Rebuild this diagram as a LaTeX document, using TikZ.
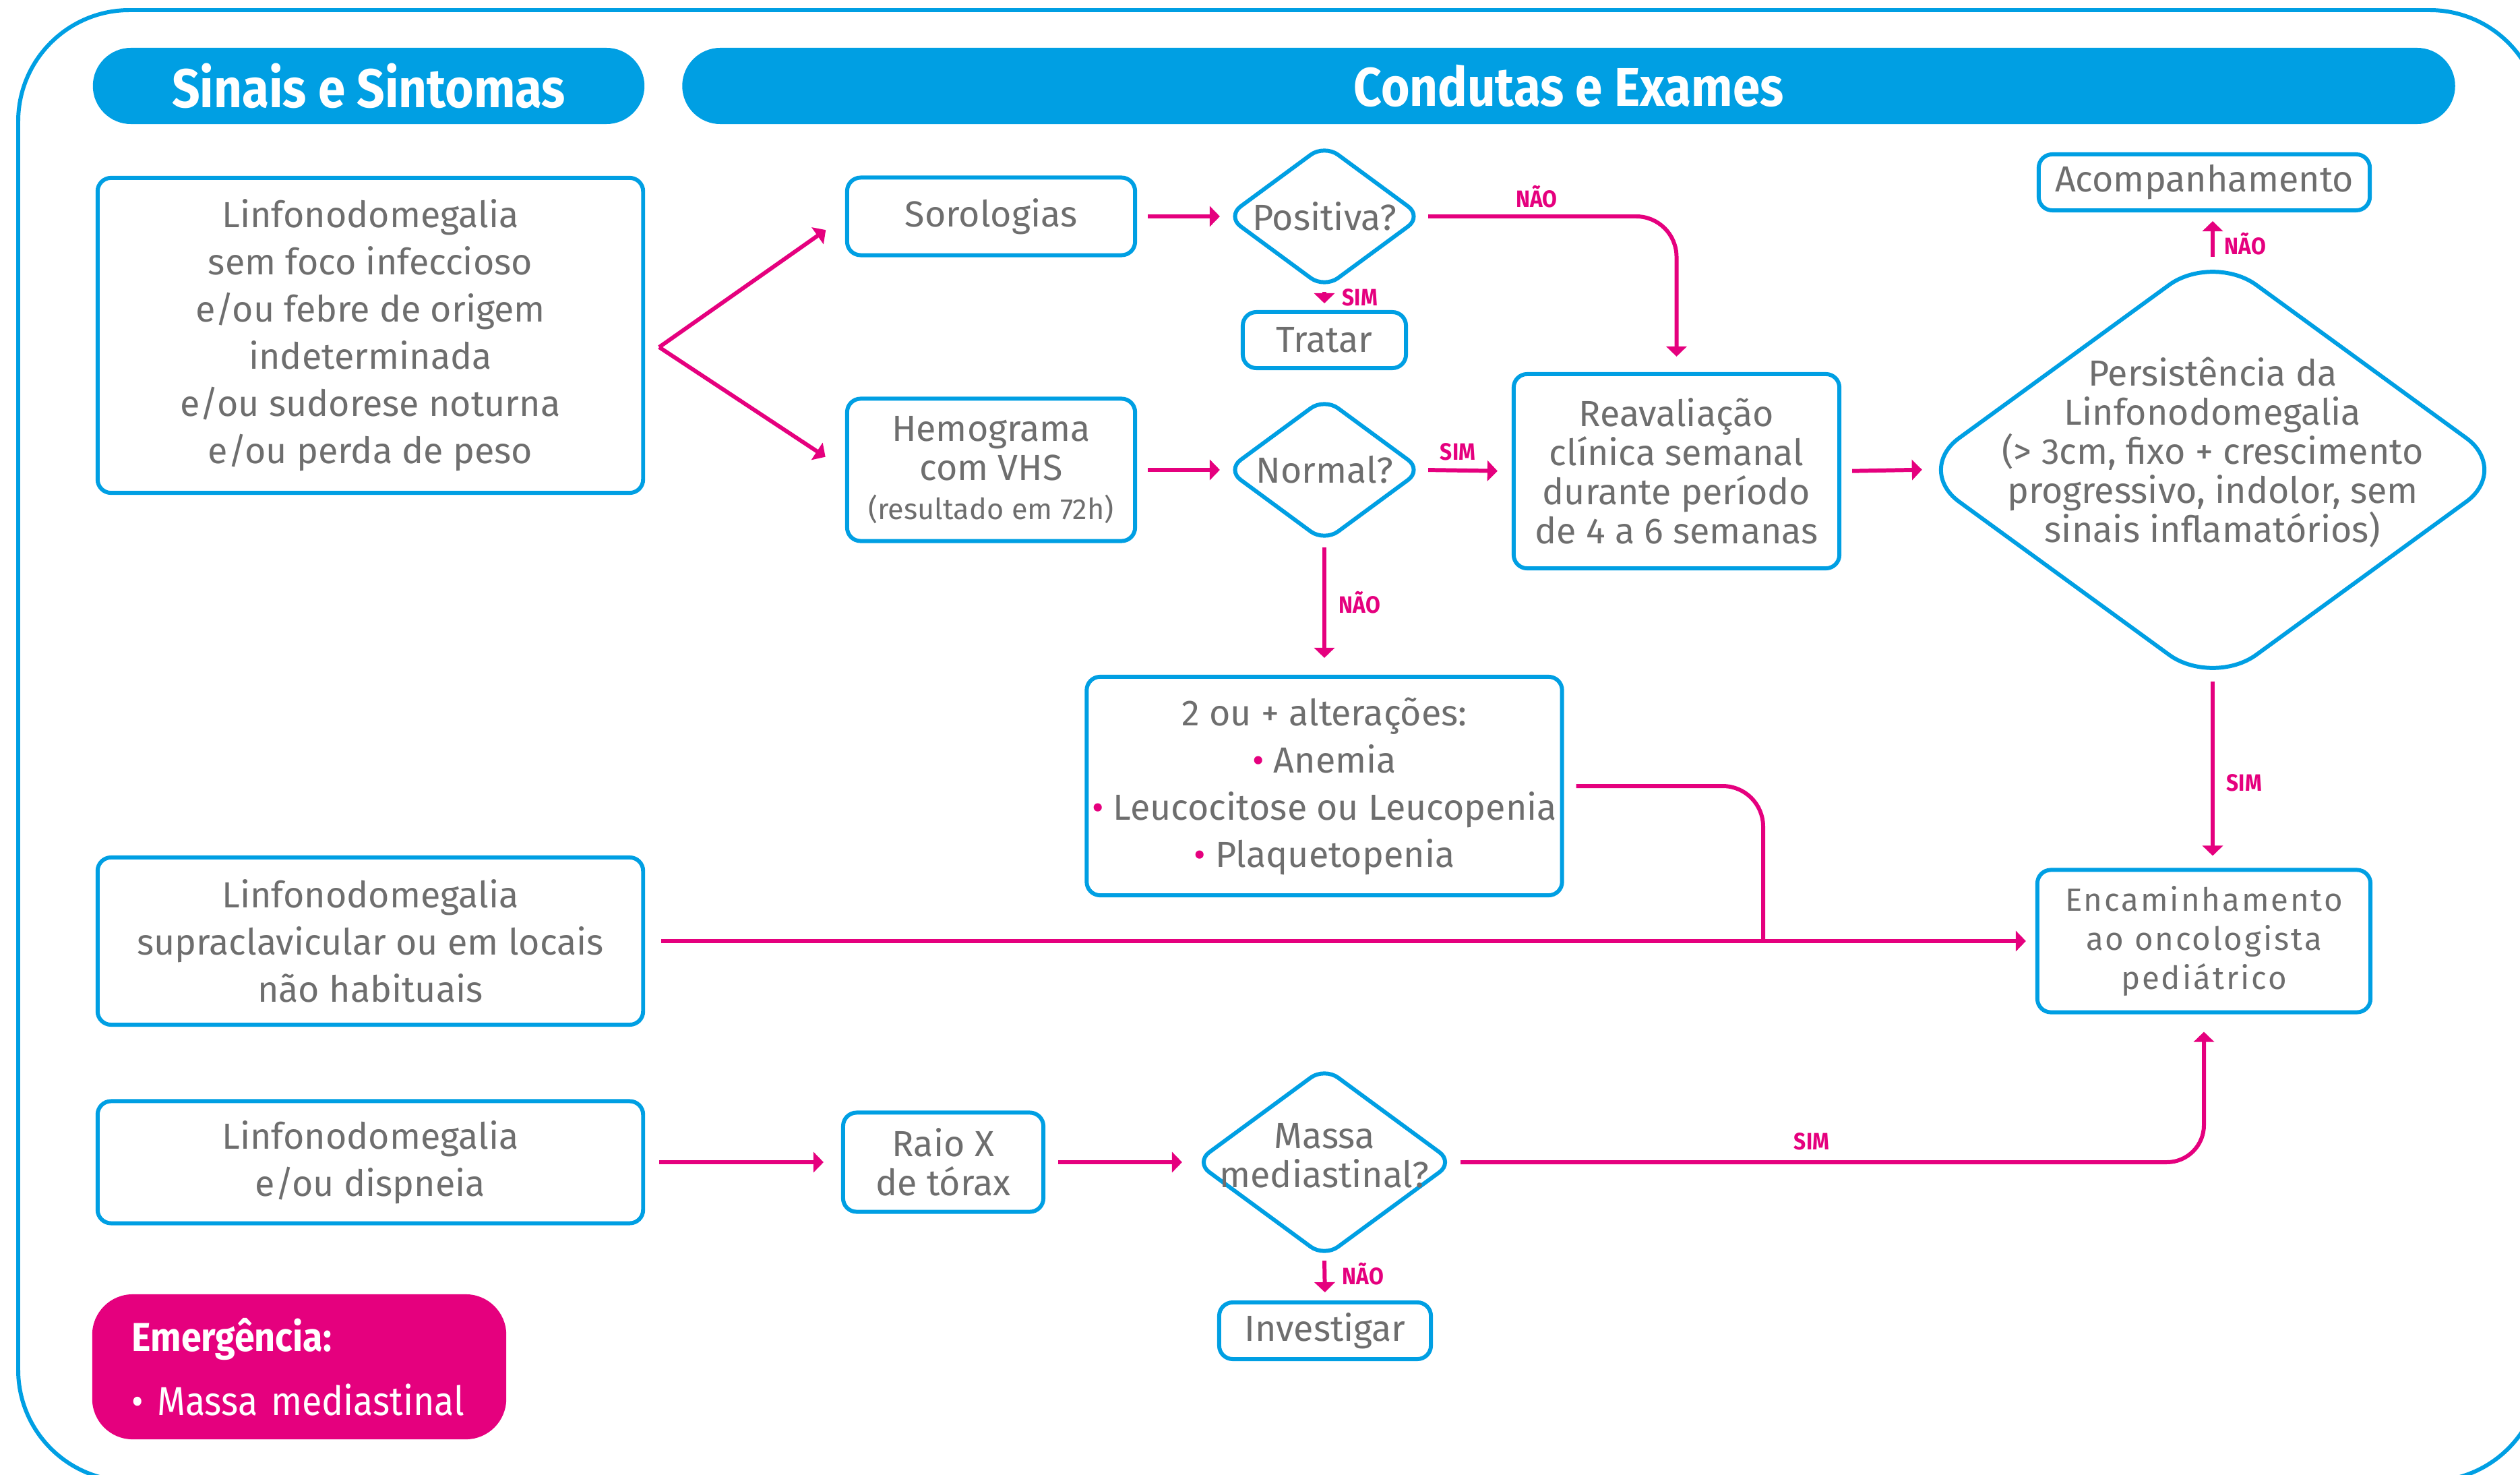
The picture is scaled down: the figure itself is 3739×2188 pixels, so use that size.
\documentclass[tikz,border=0pt]{standalone}
\usepackage{fontspec}
\setmainfont{Fira Sans}
\newfontfamily\condfont{Fira Sans}[FakeStretch=0.9]
\newfontfamily\widefont{Fira Sans}[LetterSpace=6]
\usetikzlibrary{shapes.geometric,arrows.meta}
\definecolor{azul}{RGB}{0,159,227}
\definecolor{rosa}{RGB}{229,0,126}
\definecolor{cinza}{RGB}{110,110,110}
\tikzset{
  caixa/.style={draw=azul, line width=1.7pt, rounded corners=0.2cm, inner sep=0pt, align=center, text=cinza, font=\fontsize{15.3}{19.9}\selectfont},
  apertada/.style={font=\fontsize{15.3}{16.5}\selectfont},
  decisao/.style={diamond, draw=azul, line width=1.7pt, rounded corners=0.25cm, inner sep=0pt},
  texto/.style={align=center, text=cinza, inner sep=0pt, font=\fontsize{15.3}{16.5}\selectfont},
  titulo/.style={fill=azul, rounded corners=0.565cm, minimum height=1.13cm, inner sep=0pt, text=white, font=\condfont\bfseries\fontsize{23}{23}\selectfont},
  seta/.style={draw=rosa, line width=1.7pt, -{Triangle[length=1.5mm,width=3mm]}},
  linha/.style={draw=rosa, line width=1.7pt},
  rotulo/.style={text=rosa, inner sep=0pt, font=\condfont\bfseries\fontsize{10}{10}\selectfont}
}
\newcommand{\rb}{{\color{rosa}\textbullet}}
\begin{document}
\begin{tikzpicture}[x=0.01cm, y=-0.01cm]
\clip (0,0) rectangle (3739,2188);
\draw[azul, line width=1.7pt, rounded corners=1.65cm] (27,15) rectangle (3770,2197);

\node[titulo, minimum width=8.18cm] (sinais) at (547,127.5) {Sinais e Sintomas};
\node[titulo, minimum width=26.29cm] (condutas) at (2327.5,127.5) {Condutas e Exames};

\node[caixa, minimum width=8.09cm, minimum height=4.67cm] (sintA) at (549.5,497.5) {Linfonodomegalia\\sem foco infeccioso\\e/ou febre de origem\\indeterminada\\e/ou sudorese noturna\\e/ou perda de peso};
\node[caixa, minimum width=8.09cm, minimum height=2.48cm] (sintB) at (549.5,1396) {Linfonodomegalia\\supraclavicular ou em locais\\não habituais};
\node[caixa, minimum width=8.09cm, minimum height=1.81cm] (sintC) at (549.5,1724) {Linfonodomegalia\\e/ou dispneia};
\node[fill=rosa, rounded corners=0.6cm, minimum width=6.14cm, minimum height=2.15cm, text width=4.96cm, inner sep=0pt, align=left, text=white, font=\condfont\fontsize{17}{27}\selectfont] (emerg) at (444,2027.5) {{\bfseries Emergência:}\\\mbox{\textbullet{} Massa mediastinal}};

\node[caixa, minimum width=4.27cm, minimum height=1.15cm] (soro) at (1470.5,321) {Sorologias};
\node[decisao, minimum width=2.91cm, minimum height=2.15cm] (posit) at (1965,321) {};
\node[texto] (positT) at (posit.center) {Positiva?};
\node[caixa, minimum width=2.42cm, minimum height=0.83cm] (tratar) at (1965,504.5) {Tratar};

\node[caixa, apertada, minimum width=4.27cm, minimum height=2.11cm] (hemo) at (1470.5,697) {Hemograma\\com VHS\\{\fontsize{12.3}{14}\selectfont (resultado em 72h)}};
\node[decisao, minimum width=2.91cm, minimum height=2.15cm] (normal) at (1965,697) {};
\node[texto] (normalT) at (normal.center) {Normal?};
\node[caixa, apertada, minimum width=4.83cm, minimum height=2.88cm] (reav) at (2487.5,699) {Reavaliação\\clínica semanal\\durante período\\de 4 a 6 semanas};
\node[decisao, rounded corners=0.8cm, minimum width=8.84cm, minimum height=6.45cm] (persist) at (3283,697) {};
\node[texto] (persistT) at ([yshift=0.26cm]persist.center) {Persistência da\\Linfonodomegalia\\(> 3cm, fixo + crescimento\\progressivo, indolor, sem\\sinais inflamatórios)};
\node[caixa, minimum width=4.91cm, minimum height=0.83cm] (acomp) at (3270.5,270.5) {Acompanhamento};

\node[caixa, minimum width=7.05cm, minimum height=3.24cm] (alter) at (1965,1166) {2 ou + alterações:\\\rb{} Anemia\\\rb{} Leucocitose ou Leucopenia\\\rb{} Plaquetopenia};
\node[caixa, minimum width=4.94cm, minimum height=2.11cm, font=\widefont\fontsize{13.5}{16.5}\selectfont] (encam) at (3270,1396) {Encaminhamento\\ao oncologista\\pediátrico};

\node[caixa, apertada, minimum width=2.97cm, minimum height=1.47cm] (raio) at (1399.5,1724) {Raio X\\de tórax};
\node[decisao, minimum width=3.84cm, minimum height=2.83cm] (massa) at (1965,1724) {};
\node[texto] (massaT) at ([yshift=0.1cm]massa.center) {Massa\\mediastinal?};
\node[caixa, minimum width=3.14cm, minimum height=0.84cm] (invest) at (1966,1974) {Investigar};

\coordinate (leque) at (978,515);
\coordinate (junta) at (2616,1396);

\draw[seta, shorten >=3.5mm] (leque) -- (soro.west);
\draw[seta, shorten >=3.5mm] (leque) -- (hemo.west);
\draw[seta, shorten <=1.6mm, shorten >=0.65mm] (soro.east) -- (posit.west);
\draw[seta, shorten <=0.15mm, shorten >=1mm] (posit.south) -- (tratar.north);
\draw[seta, rounded corners=0.6cm, shorten <=0.55mm, shorten >=2.3mm] (posit.east) -| (reav.north);
\draw[seta, shorten <=1.6mm, shorten >=0.65mm] (hemo.east) -- (normal.west);
\draw[seta, shorten <=0.55mm, shorten >=2.1mm] (normal.east) -- (reav.west);
\draw[seta, shorten <=0.45mm, shorten >=2.5mm] (normal.south) -- (alter.north);
\draw[seta, shorten <=1.6mm, shorten >=-1.4mm] (reav.east) -- (persist.west);
\draw[seta, shorten <=-0.95mm, shorten >=1.3mm] (persist.north) -- (persist.north |- acomp.south);
\draw[seta, shorten <=-1.15mm, shorten >=1.8mm] (persist.south) -- (persist.south |- encam.north);
\draw[seta, shorten <=2.4mm, shorten >=1.4mm] (sintB.east) -- (encam.west);
\draw[linha, rounded corners=0.6cm, shorten <=1.8mm] (alter.east) -| (junta);
\draw[seta, shorten <=2.1mm, shorten >=2.6mm] (sintC.east) -- (raio.west);
\draw[seta, shorten <=1.9mm, shorten >=1.6mm] (raio.east) -- (massa.west);
\draw[seta, rounded corners=0.55cm, shorten <=0.7mm, shorten >=2.6mm] (massa.east) -| (encam.south);
\draw[seta, shorten <=0.15mm, shorten >=1.2mm] (massa.south) -- (invest.north);

\node[rotulo] (naoPos) at (2280,292) {NÃO};
\node[rotulo, anchor=west] (simPos) at (1991,441) {SIM};
\node[rotulo] (simNor) at (2163,670) {SIM};
\node[rotulo, anchor=west] (naoNor) at (1986,894) {NÃO};
\node[rotulo, anchor=west] (naoPer) at (3300,362) {NÃO};
\node[rotulo, anchor=west] (simPer) at (3303,1161) {SIM};
\node[rotulo] (simMas) at (2688,1693) {SIM};
\node[rotulo, anchor=west] (naoMas) at (1991,1890) {NÃO};
\end{tikzpicture}
\end{document}
